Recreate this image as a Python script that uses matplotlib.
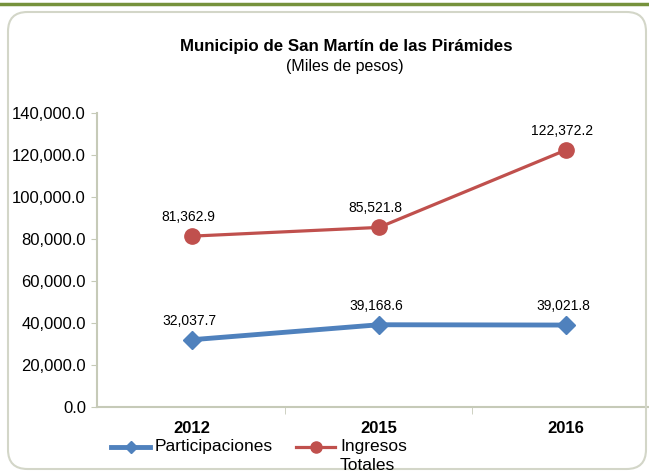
import matplotlib.pyplot as plt
from matplotlib.lines import Line2D
from matplotlib.patches import FancyBboxPatch

plt.rcParams['font.family'] = ['Liberation Sans', 'DejaVu Sans']

# data
years = ['2012', '2015', '2016']
participaciones = [32037.7, 39168.6, 39021.8]
ingresos = [81362.9, 85521.8, 122372.2]

blue = '#4F81BD'
red = '#C0504D'
axis_color = '#C6CAB8'

W, H = 649, 474
fig = plt.figure(figsize=(W / 100, H / 100), dpi=100)

# green rule on top and rounded frame
fig.add_artist(Line2D([0, 1], [1 - 4 / H, 1 - 4 / H], color='#76923C', lw=2.5,
                      transform=fig.transFigure))
frame = FancyBboxPatch((8 / W, 5 / H), 638 / W, 457 / H,
                       boxstyle='round,pad=0,rounding_size=0.03',
                       transform=fig.transFigure, facecolor='none',
                       edgecolor='#D3D6C8', lw=1.5, mutation_aspect=W / H)
fig.add_artist(frame)

ax = fig.add_axes([97 / W, 67 / H, 552 / W, 294 / H])
x = list(range(len(years)))

ax.plot(x, participaciones, color=blue, lw=3.5, marker='D', ms=9,
        solid_capstyle='round')
ax.plot(x, ingresos, color=red, lw=2.3, marker='o', ms=11)

for xi, v in zip(x, participaciones):
    ax.annotate(f'{v:,.1f}', (xi, v), xytext=(-3, 19), textcoords='offset pixels',
                ha='center', va='center', fontsize=10)
for xi, v in zip(x, ingresos):
    ax.annotate(f'{v:,.1f}', (xi, v), xytext=(-4, 19), textcoords='offset pixels',
                ha='center', va='center', fontsize=10)

ax.set_ylim(0, 140000)
ax.set_yticks(range(0, 140001, 20000))
ax.set_yticklabels([f'{t:,.1f}' for t in range(0, 140001, 20000)], fontsize=12)
ax.set_xlim(-0.508, 2.444)
ax.set_xticks(x)
ax.set_xticklabels(years, fontsize=12, fontweight='bold')
ax.set_xticks([0.5, 1.5], minor=True)
ax.tick_params(axis='x', which='major', length=0, pad=10)
ax.tick_params(axis='x', which='minor', length=5, color=axis_color, direction='out')
ax.tick_params(axis='y', length=4, color=axis_color, pad=4)

for s in ['top', 'right']:
    ax.spines[s].set_visible(False)
for s in ['left', 'bottom']:
    ax.spines[s].set_color(axis_color)
    ax.spines[s].set_linewidth(1.5)

fig.text(346 / W, 1 - 46 / H, 'Municipio de San Martín de las Pirámides',
         ha='center', va='center', fontsize=12.2, fontweight='bold')
fig.text(345 / W, 1 - 66 / H, '(Miles de pesos)', ha='center', va='center',
         fontsize=11.5)

# legend
ly = 1 - 447 / H
fig.add_artist(Line2D([111 / W, 130.5 / W, 150 / W], [ly, ly, ly],
                      color=blue, lw=3.5, marker='D', ms=6,
                      markevery=[1], transform=fig.transFigure))
fig.text(155 / W, ly, 'Participaciones', ha='left', va='center', fontsize=12.5)
fig.add_artist(Line2D([296 / W, 315.5 / W, 335 / W], [ly, ly, ly], color=red,
                      lw=2.3, marker='o', ms=8, markevery=[1],
                      transform=fig.transFigure))
fig.text(340 / W, ly, 'Ingresos', ha='left', va='center', fontsize=12.5)
fig.text(340 / W, 1 - 465 / H, 'Totales', ha='left', va='center', fontsize=12.5)

fig.savefig('out.png', dpi=100)
